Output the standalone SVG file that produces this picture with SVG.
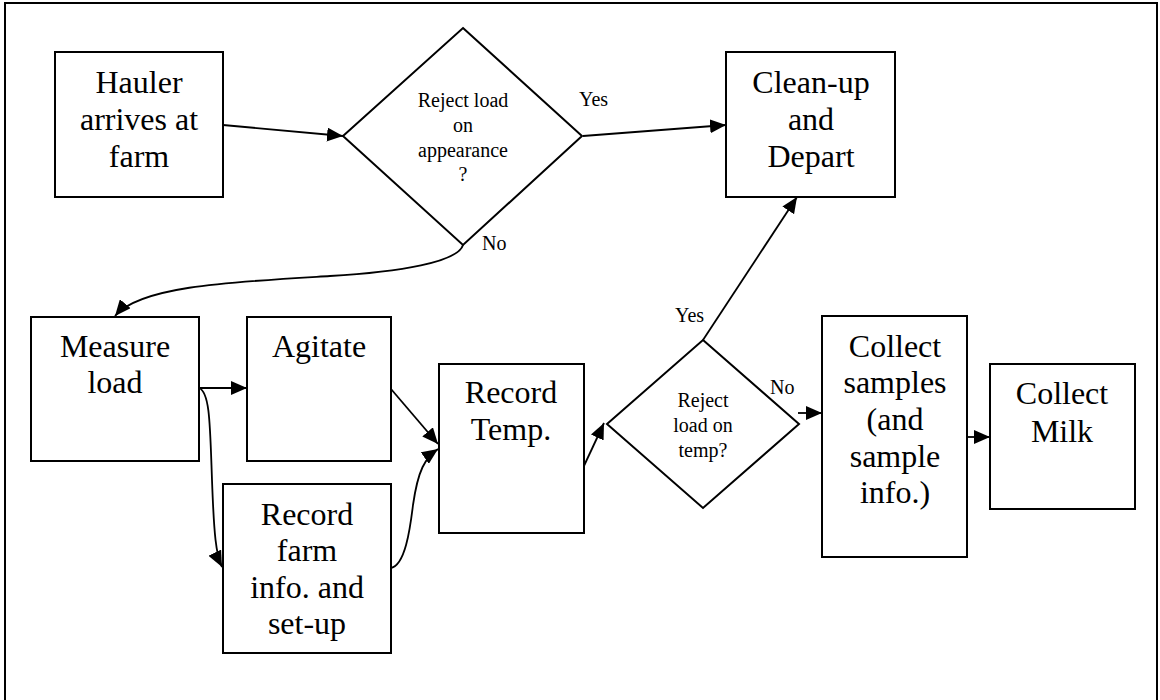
<svg xmlns="http://www.w3.org/2000/svg" width="1160" height="700" viewBox="0 0 1160 700">
  <defs>
    <marker id="arrow" markerUnits="userSpaceOnUse" markerWidth="16" markerHeight="14" refX="16" refY="7" orient="auto">
      <path d="M0,0 L16,7 L0,14 Z" fill="#000"/>
    </marker>
    <style>
      .box { fill: #fff; stroke: #000; stroke-width: 2; }
      text { font-family: 'Liberation Serif', 'Times New Roman', Times, serif; fill: #000; }
      .big { font-size: 32px; text-anchor: middle; }
      .small { font-size: 20px; text-anchor: middle; }
      .lbl { font-size: 20px; }
      .conn { fill: none; stroke: #000; stroke-width: 1.8; marker-end: url(#arrow); }
    </style>
  </defs>

  <rect width="1160" height="700" fill="#fff"/>
  <!-- page frame (open at the bottom) -->
  <path d="M5,700 V3 H1157 V700" fill="none" stroke="#000" stroke-width="2"/>

  <g font-family="Liberation Serif, Times New Roman, serif">
  <!-- connectors -->
  <g id="connectors">
    <path class="conn" d="M223,125 L343,136"/>
    <path class="conn" d="M583,136 L726,125"/>
    <path class="conn" d="M463,245 C458,262 400,272 330,276 C230,282 140,286 115,316"/>
    <path class="conn" d="M199,388 L247,388"/>
    <path class="conn" d="M199,388 C210,392 210,425 212,480 C214,535 216,555 222,567"/>
    <path class="conn" d="M391,389 L438,444"/>
    <path class="conn" d="M391,568 C405,565 410,530 413,505 C418,470 425,458 438,449"/>
    <path class="conn" d="M583,468 L604,423"/>
    <path class="conn" d="M703,340 L797,197"/>
    <path class="conn" d="M798,413 L822,413"/>
    <path class="conn" d="M967,437 L990,437"/>
    <text class="lbl" x="579" y="106">Yes</text>
    <text class="lbl" x="482" y="250">No</text>
    <text class="lbl" x="675" y="322">Yes</text>
    <text class="lbl" x="770" y="394">No</text>
  </g>

  <g id="hauler">
    <rect class="box" x="55" y="52" width="168" height="145"/>
    <text class="big" x="139" y="93">Hauler</text>
    <text class="big" x="139" y="130">arrives at</text>
    <text class="big" x="139" y="167">farm</text>
  </g>

  <g id="reject-appearance">
    <polygon class="box" points="463,28 582,136 463,245 343,136"/>
    <text class="small" x="463" y="107">Reject load</text>
    <text class="small" x="463" y="132">on</text>
    <text class="small" x="463" y="157">appearance</text>
    <text class="small" x="463" y="181">?</text>
  </g>

  <g id="cleanup">
    <rect class="box" x="726" y="52" width="169" height="145"/>
    <text class="big" x="811" y="93">Clean-up</text>
    <text class="big" x="811" y="130">and</text>
    <text class="big" x="811" y="167">Depart</text>
  </g>

  <g id="measure">
    <rect class="box" x="31" y="317" width="168" height="144"/>
    <text class="big" x="115" y="357">Measure</text>
    <text class="big" x="115" y="393">load</text>
  </g>

  <g id="agitate">
    <rect class="box" x="247" y="317" width="144" height="144"/>
    <text class="big" x="319" y="357">Agitate</text>
  </g>

  <g id="record-farm">
    <rect class="box" x="223" y="484" width="168" height="169"/>
    <text class="big" x="307" y="525">Record</text>
    <text class="big" x="307" y="561">farm</text>
    <text class="big" x="307" y="598">info. and</text>
    <text class="big" x="307" y="634">set-up</text>
  </g>

  <g id="record-temp">
    <rect class="box" x="439" y="364" width="145" height="169"/>
    <text class="big" x="511" y="403">Record</text>
    <text class="big" x="511" y="440">Temp.</text>
  </g>

  <g id="reject-temp">
    <polygon class="box" points="703,340 799,424 703,508 607,424"/>
    <text class="small" x="703" y="407">Reject</text>
    <text class="small" x="703" y="432">load on</text>
    <text class="small" x="703" y="457">temp?</text>
  </g>

  <g id="collect-samples">
    <rect class="box" x="822" y="316" width="145" height="241"/>
    <text class="big" x="895" y="357">Collect</text>
    <text class="big" x="895" y="393">samples</text>
    <text class="big" x="895" y="430">(and</text>
    <text class="big" x="895" y="467">sample</text>
    <text class="big" x="895" y="503">info.)</text>
  </g>

  <g id="collect-milk">
    <rect class="box" x="990" y="364" width="145" height="145"/>
    <text class="big" x="1062" y="404">Collect</text>
    <text class="big" x="1062" y="442">Milk</text>
  </g>
  </g>
</svg>
